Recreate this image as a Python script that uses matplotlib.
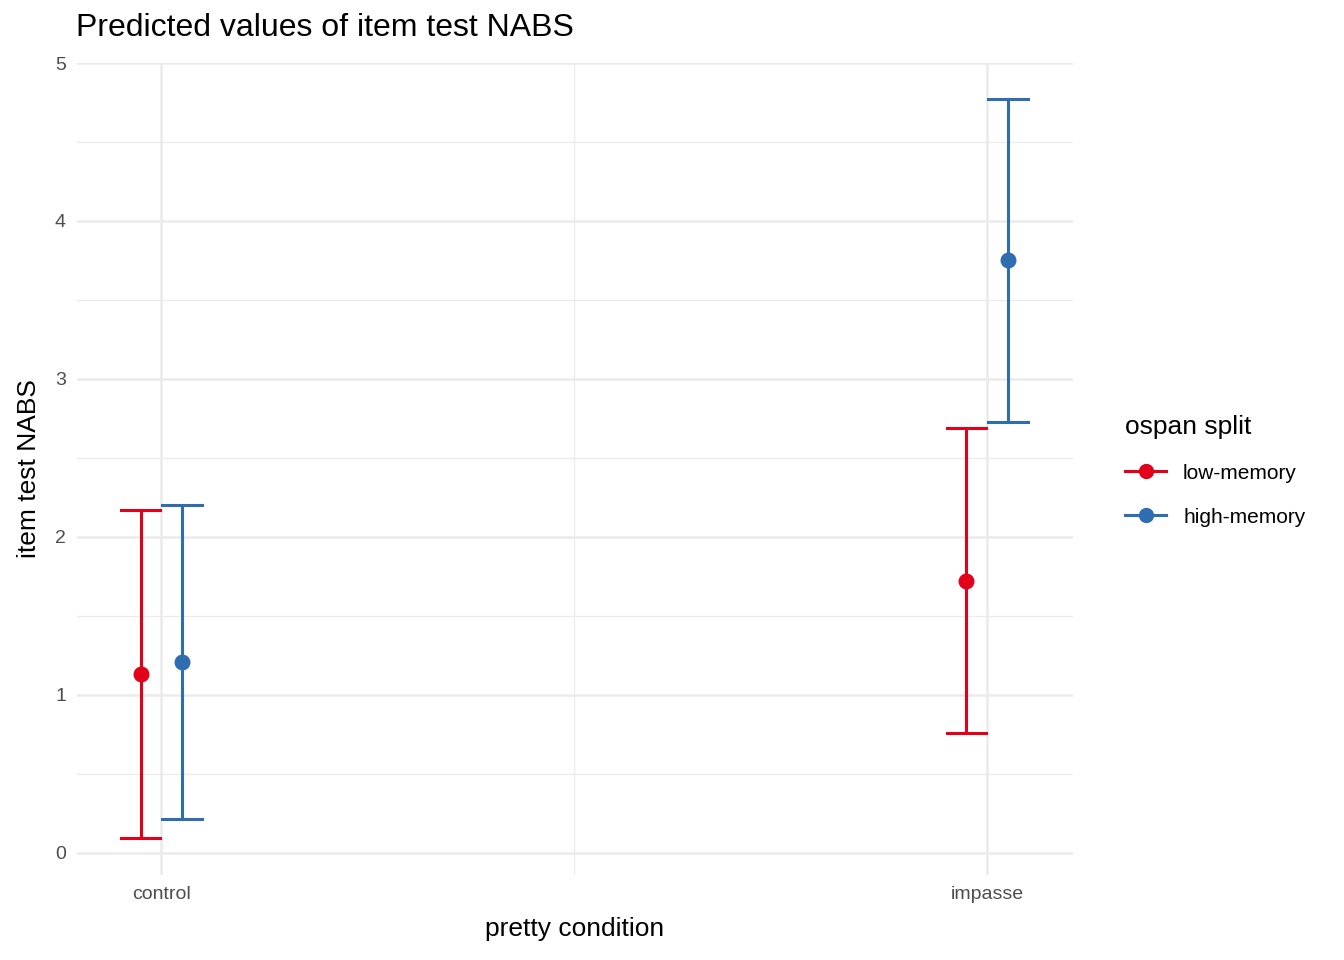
import matplotlib.pyplot as plt
import numpy as np
from matplotlib.lines import Line2D

plt.rcParams['font.family'] = ['Liberation Sans', 'DejaVu Sans']

conditions = ['control', 'impasse']
groups = ['low-memory', 'high-memory']
colors = ['#E3001B', '#2F6DB0']
predicted = [[1.13, 1.72], [1.21, 3.75]]
ci_low = [[0.095, 0.76], [0.215, 2.73]]
ci_high = [[2.17, 2.69], [2.20, 4.77]]

fig = plt.figure(figsize=(13.44, 9.6), dpi=100)
ax = fig.add_axes([77/1344, 1-875/960, (1073-77)/1344, (875-63)/960])

x = np.arange(len(conditions))
dodge = 0.025
cap = 0.024
for g, (name, col) in enumerate(zip(groups, colors)):
    xs = x + (g - 0.5) * 2 * dodge
    for i, xi in enumerate(xs):
        ax.plot([xi, xi], [ci_low[g][i], ci_high[g][i]], color=col, lw=2.2, zorder=3)
        for yv in (ci_low[g][i], ci_high[g][i]):
            ax.plot([xi - cap, xi + cap], [yv, yv], color=col, lw=2.2, zorder=3)
    ax.scatter(xs, predicted[g], s=110, color=col, zorder=4)

ax.set_xlim(-0.102, 1.104)
ax.set_ylim(-0.14, 5.0)
ax.set_xticks(x)
ax.set_xticklabels(conditions)
ax.set_xticks([0.5], minor=True)
ax.set_yticks(range(6))
ax.set_yticks(np.arange(0.5, 5, 1), minor=True)
ax.grid(which='major', color='#EBEBEB', lw=1.8)
ax.grid(which='minor', color='#EBEBEB', lw=0.9)
ax.set_axisbelow(True)
for s in ax.spines.values():
    s.set_visible(False)
ax.tick_params(which='both', length=0, labelsize=14, colors='#4D4D4D', pad=8)
ax.set_xlabel('pretty condition', fontsize=19, labelpad=10)
ax.set_ylabel('item test NABS', fontsize=19, labelpad=10)
fig.text(76/1344, 1-28/960, 'Predicted values of item test NABS', fontsize=23, va='center')

handles = [Line2D([0], [0], color=c, lw=2.2, marker='o', markersize=10) for c in colors]
leg = fig.legend(handles, groups, loc='upper left', bbox_to_anchor=(1106/1344, 1-396/960),
                 frameon=False, fontsize=15, title='ospan split', title_fontsize=19,
                 handlelength=2, labelspacing=1.2)
leg._legend_box.align = 'left'

fig.savefig('out.png', dpi=100)
